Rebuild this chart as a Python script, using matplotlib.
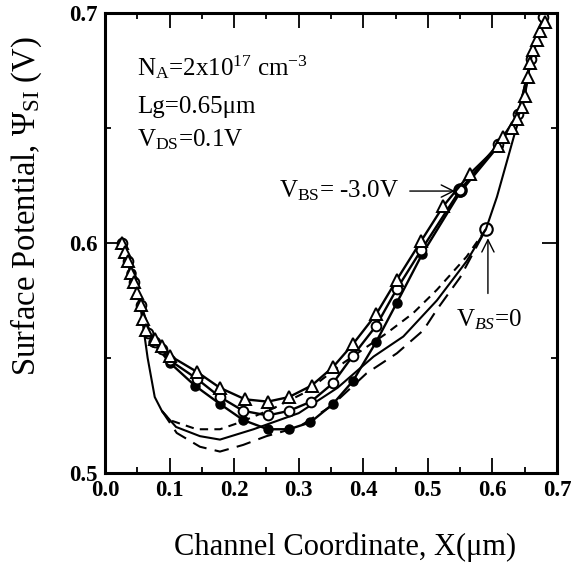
import numpy as np
import matplotlib.pyplot as plt
from matplotlib.ticker import MultipleLocator

plt.rcParams['font.family'] = ['Liberation Serif', 'DejaVu Serif']
plt.rcParams['mathtext.fontset'] = 'custom'
plt.rcParams['mathtext.rm'] = 'Liberation Serif'
plt.rcParams['mathtext.it'] = 'Liberation Serif:italic'

# V_BS = -3.0 V group (markers + solid lines)
x_tri = [0.026, 0.031, 0.036, 0.040, 0.045, 0.050, 0.056, 0.059, 0.064, 0.077, 0.088,
         0.100, 0.142, 0.178, 0.217, 0.252, 0.285, 0.320, 0.353, 0.384, 0.420, 0.452,
         0.490, 0.524, 0.565, 0.609, 0.617, 0.630, 0.638, 0.646, 0.650, 0.655, 0.658,
         0.663, 0.669, 0.674, 0.681]
y_tri = [0.600, 0.596, 0.592, 0.587, 0.583, 0.578, 0.573, 0.567, 0.562, 0.558, 0.555,
         0.551, 0.544, 0.537, 0.532, 0.531, 0.533, 0.538, 0.546, 0.556, 0.569, 0.584,
         0.601, 0.616, 0.630, 0.642, 0.646, 0.650, 0.654, 0.659, 0.664, 0.672, 0.678,
         0.684, 0.688, 0.692, 0.696]

x_oc = [0.026, 0.036, 0.045, 0.056, 0.066, 0.077, 0.088, 0.100, 0.142, 0.178, 0.214,
        0.252, 0.285, 0.319, 0.353, 0.384, 0.420, 0.452, 0.490, 0.550, 0.609, 0.640,
        0.660, 0.678]
y_oc = [0.600, 0.592, 0.583, 0.573, 0.561, 0.557, 0.554, 0.549, 0.541, 0.533, 0.527,
        0.525, 0.527, 0.531, 0.539, 0.551, 0.564, 0.580, 0.597, 0.623, 0.643, 0.656,
        0.680, 0.698]

x_fc = [0.026, 0.040, 0.056, 0.074, 0.100, 0.139, 0.178, 0.214, 0.252, 0.285, 0.318,
        0.353, 0.384, 0.420, 0.452, 0.491, 0.550, 0.609, 0.640, 0.660, 0.678]
y_fc = [0.600, 0.587, 0.573, 0.557, 0.548, 0.538, 0.530, 0.523, 0.519, 0.519, 0.522,
        0.530, 0.540, 0.557, 0.574, 0.595, 0.622, 0.642, 0.656, 0.680, 0.698]

# V_BS = 0 group (lines only)
x_solid = [0.026, 0.040, 0.050, 0.056, 0.066, 0.077, 0.088, 0.110, 0.147, 0.178, 0.230,
           0.300, 0.360, 0.416, 0.462, 0.514, 0.560, 0.590, 0.607, 0.622, 0.635, 0.645,
           0.660, 0.684]
y_solid = [0.600, 0.587, 0.578, 0.570, 0.550, 0.533, 0.527, 0.520, 0.516, 0.5145, 0.519,
           0.526, 0.537, 0.5506, 0.5593, 0.575, 0.592, 0.606, 0.620, 0.635, 0.648, 0.657,
           0.680, 0.700]

x_sdash = [0.088, 0.100, 0.142, 0.178, 0.209, 0.260, 0.310, 0.370, 0.436, 0.477, 0.514,
           0.560, 0.590]
y_sdash = [0.527, 0.523, 0.519, 0.519, 0.522, 0.528, 0.535, 0.548, 0.5607, 0.5694, 0.5796,
           0.594, 0.606]

x_ldash = [0.088, 0.111, 0.147, 0.178, 0.214, 0.250, 0.300, 0.350, 0.405, 0.452, 0.493,
           0.514, 0.550, 0.590]
y_ldash = [0.527, 0.5174, 0.5114, 0.5093, 0.5122, 0.516, 0.520, 0.529, 0.5433, 0.552, 0.562,
           0.571, 0.585, 0.606]

fig = plt.figure(figsize=(5.72, 5.62), dpi=100)
ax = fig.add_axes([0.1836, 0.1584, 0.7902, 0.819])

ax.plot(x_solid, y_solid, '-', color='black', lw=1.5)
ax.plot(x_sdash, y_sdash, color='black', lw=1.5, dashes=(4, 3))
ax.plot(x_ldash, y_ldash, color='black', lw=1.5, dashes=(7, 4))

ax.plot(x_fc, y_fc, '-o', color='black', lw=1.7, ms=6.5, mfc='black', mec='black')
ax.plot(x_oc, y_oc, '-o', color='black', lw=1.7, ms=7, mfc='white', mec='black', mew=1.4)
ax.plot(x_tri, y_tri, '-^', color='black', lw=1.7, ms=8, mfc='white', mec='black', mew=1.4)

# larger open circles where arrows point
ax.plot([0.550, 0.590], [0.623, 0.606], 'o', ms=9, mfc='none', mec='black', mew=1.5)

ax.set_xlim(0.0, 0.7)
ax.set_ylim(0.5, 0.7)
ax.xaxis.set_major_locator(MultipleLocator(0.1))
ax.xaxis.set_minor_locator(MultipleLocator(0.05))
ax.yaxis.set_major_locator(MultipleLocator(0.1))
ax.yaxis.set_minor_locator(MultipleLocator(0.05))
ax.xaxis.set_major_formatter(plt.FormatStrFormatter('%.1f'))
ax.yaxis.set_major_formatter(plt.FormatStrFormatter('%.1f'))
ax.tick_params(which='both', direction='in', top=True, right=True, width=1.3)
ax.tick_params(which='major', length=11, labelsize=16.5, pad=5)
ax.tick_params(which='minor', length=4)
for lab in ax.get_xticklabels() + ax.get_yticklabels():
    lab.set_fontweight('bold')
for sp in ax.spines.values():
    sp.set_linewidth(2.2)

ax.set_xlabel('Channel Coordinate, X(\u03bcm)', fontsize=22)
ax.set_ylabel('Surface Potential, \u03a8$_{\\mathrm{SI}}$ (V)', fontsize=23.5)
ax.xaxis.set_label_coords(0.53, -0.13)
ax.yaxis.set_label_coords(-0.135, 0.58)

ax.text(0.0496, 0.6726, 'N$_{\\mathrm{A}}$=2x10$^{\\mathrm{17}}$ cm$^{\\mathrm{-3}}$',
        fontsize=18, va='baseline')
ax.text(0.0496, 0.6565, 'Lg=0.65\u03bcm', fontsize=18, va='baseline')
ax.text(0.0496, 0.6417, 'V$_{\\mathrm{DS}}$=0.1V', fontsize=18, va='baseline')

ax.text(0.270, 0.6225, 'V$_{\\mathrm{BS}}$= -3.0V', fontsize=18, va='center')
ax.annotate('', xy=(0.542, 0.6225), xytext=(0.472, 0.6225),
            arrowprops=dict(arrowstyle='->', lw=1, mutation_scale=22, shrinkA=0, shrinkB=0))
ax.text(0.543, 0.5665, 'V$_{BS}$=0', fontsize=18, va='center')
ax.annotate('', xy=(0.593, 0.602), xytext=(0.593, 0.578),
            arrowprops=dict(arrowstyle='->', lw=1, mutation_scale=22, shrinkA=0, shrinkB=0))

fig.savefig('out.png', dpi=100)
